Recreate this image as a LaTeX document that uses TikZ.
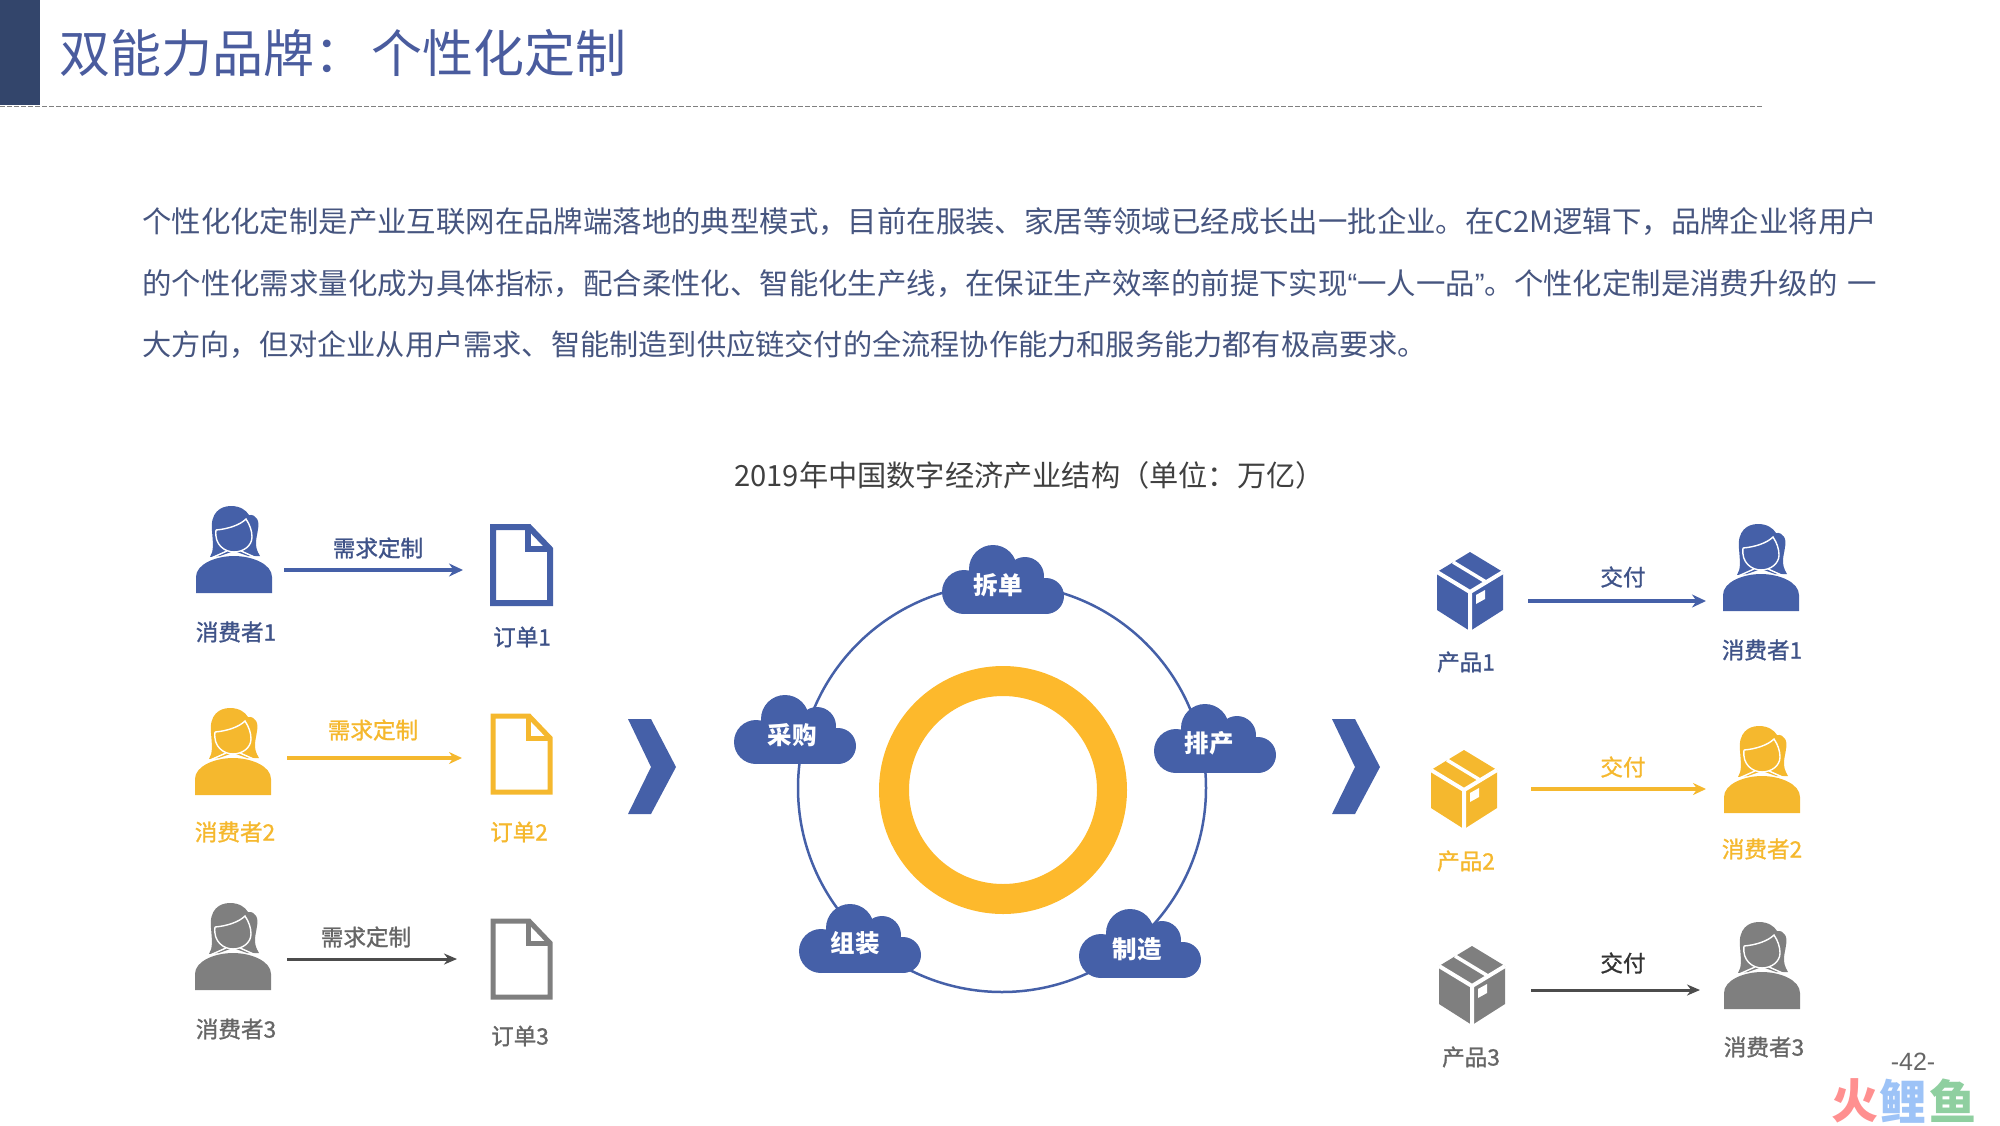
\documentclass[tikz,border=0pt]{standalone}
\usepackage{fontspec}
\setmainfont{Noto Sans CJK SC}
\newfontfamily\pagefont{Liberation Sans}
\newfontfamily\medfont[FakeBold=1.2]{Noto Sans CJK SC}
\usetikzlibrary{arrows.meta}
\definecolor{brandblue}{HTML}{4560A8}
\definecolor{labelblue}{HTML}{3F5388}
\definecolor{brandyellow}{HTML}{F5B82E}
\definecolor{ringyellow}{HTML}{FDB92C}
\definecolor{iconGray}{HTML}{7F7F7F}
\definecolor{labelGray}{HTML}{666666}
\definecolor{barnavy}{HTML}{33456B}
\definecolor{titleblue}{HTML}{4A5C9E}
\definecolor{bodyblue}{HTML}{46557F}
\definecolor{markred}{HTML}{FF9090}
\definecolor{markblue}{HTML}{9DC3F7}
\definecolor{markgreen}{HTML}{8FCFA0}

\begin{document}
\begin{tikzpicture}[
  x=1pt, y=-1pt,
  every node/.style={inner sep=0pt, align=center},
  titletext/.style={font=\fontsize{51}{60}\selectfont, text=titleblue},
  bodytext/.style={font=\fontsize{29.4}{36}\selectfont, text=bodyblue},
  charttitle/.style={font=\fontsize{29.2}{34}\selectfont, text=black!75},
  lblblue/.style={font=\medfont\fontsize{22.6}{26}\selectfont, text=labelblue},
  lblyellow/.style={font=\medfont\fontsize{22.6}{26}\selectfont, text=brandyellow},
  lblgray/.style={font=\medfont\fontsize{22.6}{26}\selectfont, text=labelGray},
  cloudtext/.style={font=\bfseries\fontsize{24.5}{30}\selectfont, text=white},
  flowblue/.style={-{Stealth[length=14pt,width=13pt]}, draw=brandblue, line width=4pt},
  flowyellow/.style={-{Stealth[length=13pt,width=12pt]}, draw=brandyellow, line width=3.5pt},
  flowgray/.style={-{Stealth[length=13pt,width=11pt]}, draw=black!70, line width=3pt},
  person/.pic={
    \fill[pic actions] (-24,-36) .. controls (-20,-42) and (-21,-50) .. (-22,-62)
      .. controls (-24,-80) and (-14,-87) .. (-3,-87)
      .. controls (6,-87) and (12,-83) .. (15,-78)
      .. controls (22,-79) and (26,-72) .. (24,-64)
      .. controls (23,-55) and (19,-48) .. (26,-37)
      -- (14,-37) -- (0,-42) -- (-14,-37) -- cycle;
    \draw[white, line width=1.4pt] (-18,-63) .. controls (-6,-64) and (6,-68) .. (12,-74)
      .. controls (16,-68) and (18,-62) .. (18,-56)
      .. controls (18,-47) and (9,-41) .. (0,-41)
      .. controls (-9,-41) and (-20,-48) .. (-18,-63);
    \draw[white, line width=1.4pt] (-7,-42) -- (-25,-34) (7,-42) -- (25,-34);
    \fill[pic actions] (-38,0) -- (-38,-16) .. controls (-38,-29) and (-18,-37) .. (0,-37)
      .. controls (18,-37) and (38,-29) .. (38,-16) -- (38,0) -- cycle;
  },
  orderdoc/.pic={
    \draw[pic actions, line join=miter] (3,3) -- (39,3) -- (60,25) -- (60,79) -- (3,79) -- cycle;
    \draw[pic actions, line join=miter] (38,3) -- (38,25) -- (60,25);
  },
  parcel/.pic={
    \fill[pic actions] (0,-40) -- (33,-20) -- (33,18) -- (0,39) -- (-33,18) -- (-33,-20) -- cycle;
    \draw[white, line width=4pt] (-33,-20) -- (0,0) -- (33,-20) (0,0) -- (0,39);
    \draw[white, line width=3.5pt] (-17,-30) -- (16,-10);
    \fill[white] (6,3) -- (15,-2) -- (15,7) -- (6,12) -- cycle;
  },
  chevron/.pic={
    \fill[pic actions] (0,0) -- (23,0) -- (48,48) -- (23,95) -- (0,95) -- (23,48) -- cycle;
  },
  cloudicon/.pic={
    \fill[pic actions] (50,-45) circle[radius=24];
    \fill[pic actions] (82,-38) circle[radius=19];
    \fill[pic actions] (103,-18) circle[radius=18];
    \fill[pic actions] (21,-22) circle[radius=22];
    \fill[pic actions] (21,-30) rectangle (103,0);
  },
]
\useasboundingbox (0,0) rectangle (2000,1125);

% ---------- header ----------
\fill[barnavy] (0,0) rectangle (40,105);
\draw[black!50, dash pattern=on 5pt off 2pt, line width=0.8pt] (0,106) -- (1762,106);
\node[titletext, anchor=west] (title) at (59,53) {双能力品牌：\hspace{6pt}个性化定制};

% ---------- paragraph ----------
\node[bodytext, anchor=base west] (line1) at (142,232)
  {个性化化定制是产业互联网在品牌端落地的典型模式，目前在服装、家居等领域已经成长出一批企业。在C2M逻辑下，品牌企业将用户};
\node[bodytext, anchor=base west] (line2) at (142,294)
  {的个性化需求量化成为具体指标，配合柔性化、智能化生产线，在保证生产效率的前提下实现{\pagefont “}一人一品{\pagefont ”}。个性化定制是消费升级的\hspace{10pt}一};
\node[bodytext, anchor=base west, font=\fontsize{29.2}{36}\selectfont] (line3) at (142,355)
  {大方向，但对企业从用户需求、智能制造到供应链交付的全流程协作能力和服务能力都有极高要求。};

\node[charttitle, anchor=west] (chart) at (734,475) {2019年中国数字经济产业结构（单位：万亿）};

% ---------- left: consumers and orders ----------
\pic[fill=brandblue] at (234,593) {person};
\pic[fill=brandyellow] at (233,795) {person};
\pic[fill=iconGray] at (233,990) {person};
\node[lblblue] (buyerA) at (236,632) {消费者1};
\node[lblyellow] (buyerB) at (235,832) {消费者2};
\node[lblgray] (buyerC) at (236,1029) {消费者3};

\pic[draw=brandblue, line width=6pt] at (490,524) {orderdoc};
\pic[draw=brandyellow, line width=5pt] at (490,713) {orderdoc};
\pic[draw=iconGray, line width=5pt] at (490,918) {orderdoc};
\node[lblblue] (orderA) at (522,637) {订单1};
\node[lblyellow] (orderB) at (519,832) {订单2};
\node[lblgray] (orderC) at (520,1036) {订单3};

\coordinate (reqAs) at (284,570);
\coordinate (reqAe) at (463,570);
\coordinate (reqBs) at (287,758);
\coordinate (reqBe) at (462,758);
\coordinate (reqCs) at (287,959);
\coordinate (reqCe) at (457,959);
\draw[flowblue] (reqAs) -- (reqAe);
\draw[flowyellow] (reqBs) -- (reqBe);
\draw[flowgray] (reqCs) -- (reqCe);
\node[lblblue] (needA) at (378,548) {需求定制};
\node[lblyellow] (needB) at (373,730) {需求定制};
\node[lblgray] (needC) at (366,937) {需求定制};

\pic[fill=brandblue] at (628,719) {chevron};
\pic[fill=brandblue] at (1332,719) {chevron};

% ---------- middle: ring of clouds ----------
\draw[draw=brandblue, line width=2.5pt] (1002,788) circle[radius=204];
\draw[draw=ringyellow, line width=30pt] (1003,790) circle[radius=109];

\pic[fill=brandblue] at (943,614) {cloudicon};
\pic[fill=brandblue] at (1155,773) {cloudicon};
\pic[fill=brandblue] at (1080,978) {cloudicon};
\pic[fill=brandblue] at (800,973) {cloudicon};
\pic[fill=brandblue] at (735,764) {cloudicon};
\node[cloudtext] (split) at (998,585) {拆单};
\node[cloudtext] (plan) at (1209,743) {排产};
\node[cloudtext] (make) at (1137,949) {制造};
\node[cloudtext] (pack) at (855,943) {组装};
\node[cloudtext] (buy) at (792,735) {采购};

% ---------- right: products and delivery ----------
\pic[fill=brandblue] at (1470,592) {parcel};
\pic[fill=brandyellow] at (1464,790) {parcel};
\pic[fill=iconGray] at (1472,986) {parcel};
\node[lblblue] (itemA) at (1466,662) {产品1};
\node[lblyellow] (itemB) at (1466,861) {产品2};
\node[lblgray] (itemC) at (1471,1057) {产品3};

\coordinate (shipAs) at (1528,601);
\coordinate (shipAe) at (1706,601);
\coordinate (shipBs) at (1531,789);
\coordinate (shipBe) at (1706,789);
\coordinate (shipCs) at (1531,990);
\coordinate (shipCe) at (1700,990);
\draw[flowblue] (shipAs) -- (shipAe);
\draw[flowyellow] (shipBs) -- (shipBe);
\draw[flowgray] (shipCs) -- (shipCe);
\node[lblblue] (giveA) at (1623,577) {交付};
\node[lblyellow] (giveB) at (1623,767) {交付};
\node[lblgray, text=black!80] (giveC) at (1623,963) {交付};

\pic[fill=brandblue] at (1761,611) {person};
\pic[fill=brandyellow] at (1762,813) {person};
\pic[fill=iconGray] at (1762,1009) {person};
\node[lblblue] (userA) at (1762,650) {消费者1};
\node[lblyellow] (userB) at (1762,849) {消费者2};
\node[lblgray] (userC) at (1764,1047) {消费者3};

% ---------- footer ----------
\node[font=\pagefont\fontsize{25}{28}\selectfont, text=black!60] (page) at (1913,1062) {-42-};
\node[font=\bfseries\fontsize{47}{50}\selectfont, text=markred, anchor=west] (markA) at (1831,1101) {火};
\node[font=\bfseries\fontsize{47}{50}\selectfont, text=markblue, anchor=west] (markB) at (1879,1101) {鲤};
\node[font=\bfseries\fontsize{47}{50}\selectfont, text=markgreen, anchor=west] (markC) at (1929,1101) {鱼};

\end{tikzpicture}
\end{document}
